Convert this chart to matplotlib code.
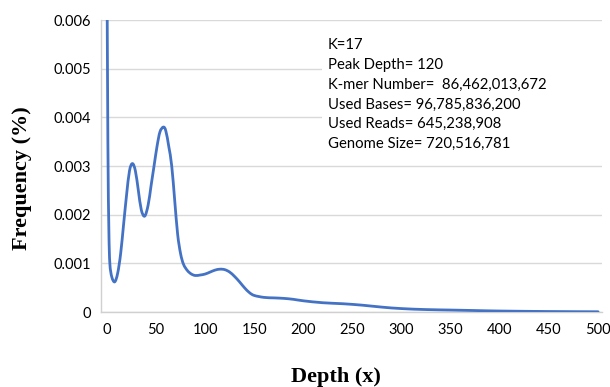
import matplotlib
matplotlib.use("Agg")
import matplotlib.pyplot as plt
from matplotlib.patches import Rectangle, PathPatch
from matplotlib.path import Path

depth = [0, 1, 2, 3, 5, 8, 11, 14, 17, 20, 23, 26, 29, 32, 35, 38.5, 42, 45, 48, 51, 54,
         57.5, 60, 63, 66, 69, 72, 75, 78, 82, 86, 90, 95, 100, 105, 110, 115, 120, 125,
         130, 135, 140, 145, 150, 160, 170, 180, 190, 200, 220, 240, 260, 280, 300, 325,
         350, 375, 400, 450, 500]
freq = [0.0075, 0.0035, 0.0017, 0.0010, 0.00072, 0.00062, 0.0008, 0.0012, 0.0018, 0.0024,
        0.0029, 0.00305, 0.0029, 0.0025, 0.0021, 0.00197, 0.0022, 0.0026, 0.0030, 0.0034,
        0.0037, 0.0038, 0.00372, 0.0034, 0.0030, 0.0023, 0.0016, 0.0012, 0.00098, 0.00085,
        0.00078, 0.00075, 0.00076, 0.00078, 0.00082, 0.00086, 0.00088, 0.00087, 0.00082,
        0.00073, 0.00062, 0.0005, 0.0004, 0.00034, 0.0003, 0.00029, 0.00028, 0.00026,
        0.00023, 0.00019, 0.00017, 0.00014, 0.0001, 0.00007, 0.00005, 0.00004, 0.00003,
        0.00002, 0.00001, 0.000005]

xticks = [0, 50, 100, 150, 200, 250, 300, 350, 400, 450, 500]
yticks = [0, 0.001, 0.002, 0.003, 0.004, 0.005, 0.006]
ytick_labels = ["0", "0.001", "0.002", "0.003", "0.004", "0.005", "0.006"]
info_lines = ["K=17", "Peak Depth= 120", "K-mer Number=  86,462,013,672",
              "Used Bases= 96,785,836,200", "Used Reads= 645,238,908",
              "Genome Size= 720,516,781"]


def smooth_path(xs, ys):
    """Catmull-Rom style smoothed line (like a spreadsheet 'smoothed line'), as Bezier path."""
    pts = list(zip(xs, ys))
    n = len(pts)
    verts = [pts[0]]
    codes = [Path.MOVETO]
    for i in range(n - 1):
        p0 = pts[i - 1] if i > 0 else pts[i]
        p1 = pts[i]
        p2 = pts[i + 1]
        p3 = pts[i + 2] if i + 2 < n else pts[i + 1]
        c1 = (p1[0] + (p2[0] - p0[0]) / 6, p1[1] + (p2[1] - p0[1]) / 6)
        c2 = (p2[0] - (p3[0] - p1[0]) / 6, p2[1] - (p3[1] - p1[1]) / 6)
        verts += [c1, c2, p2]
        codes += [Path.CURVE4] * 3
    return Path(verts, codes)


W, H = 610, 387
fig = plt.figure(figsize=(W / 100, H / 100), dpi=100)
ax = fig.add_axes([101 / W, 1 - 312 / H, 501 / W, 292 / H])

ax.add_patch(PathPatch(smooth_path(depth, freq), fill=False, edgecolor="#4472C4",
                       lw=2.0, zorder=3, capstyle="round", joinstyle="round"))
ax.set_xlim(-6, 504)
ax.set_ylim(0, 0.006)
ax.set_xticks(xticks)
ax.set_xticklabels([str(t) for t in xticks])
ax.set_yticks(yticks)
ax.set_yticklabels(ytick_labels)
ax.set_axisbelow(True)
ax.grid(axis="y", color="#D9D9D9", lw=1.0)
for s in ["top", "right"]:
    ax.spines[s].set_visible(False)
for s in ["left", "bottom"]:
    ax.spines[s].set_color("#D0D0D0")
    ax.spines[s].set_linewidth(1.0)
ax.tick_params(length=0, labelsize=10.5, colors="black")
ax.tick_params(axis="y", pad=7)
ax.tick_params(axis="x", pad=8)
for lab in ax.get_xticklabels() + ax.get_yticklabels():
    lab.set_fontfamily("Lato")

ax.add_patch(Rectangle((0.441, 0.538), 0.56, 0.428, transform=ax.transAxes,
                       facecolor="white", edgecolor="none", zorder=1.5))

y0 = 45
for i, line in enumerate(info_lines):
    fig.text(328 / W, 1 - (y0 + 19.8 * i) / H, line, fontsize=10.7, family="Lato",
             va="center", ha="left", zorder=5)

fig.text(336 / W, 1 - 377 / H, "Depth (x)", fontsize=16, fontweight="bold",
         family="Liberation Serif", ha="center", va="center")
fig.text(22 / W, 1 - 178 / H, "Frequency (%)", fontsize=16, fontweight="bold",
         family="Liberation Serif", ha="center", va="center", rotation=90)

fig.savefig("out.png", dpi=100)
